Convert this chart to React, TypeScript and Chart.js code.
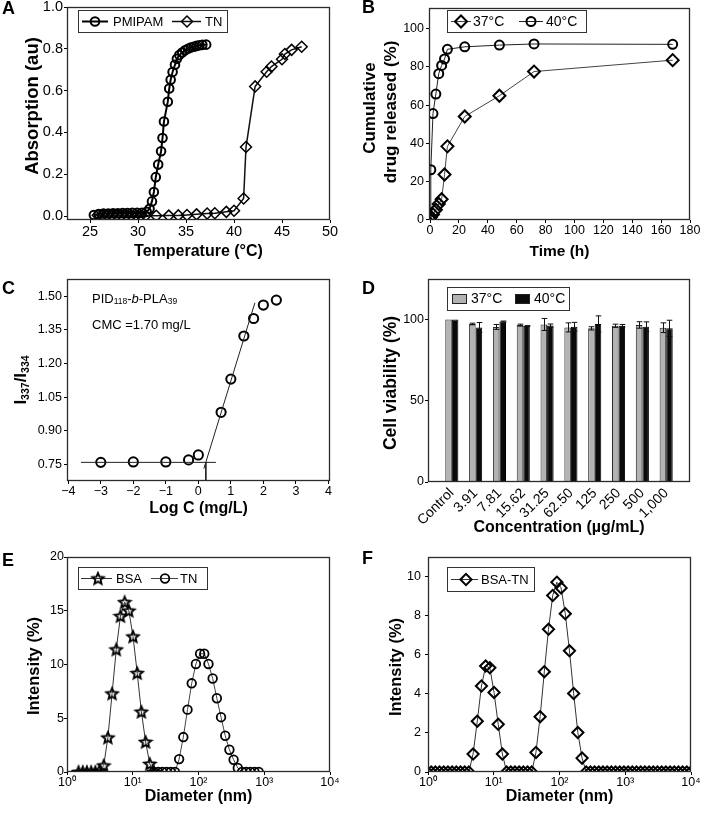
import React, { useEffect, useRef } from "react";
import { Chart, registerables } from "chart.js";

Chart.register(...registerables);

const FONT = "'Liberation Sans', Arial, Helvetica, sans-serif";

// ---------------- Panel A data ----------------
const A_PMIPAM_TEMP = [25.4, 25.9, 26.4, 26.9, 27.4, 27.9, 28.4, 28.9, 29.4, 29.9, 30.4, 30.9, 31.2, 31.45, 31.65, 31.85, 32.1, 32.4, 32.55, 32.7, 33.1, 33.25, 33.4, 33.6, 33.85, 34.05, 34.3, 34.6, 34.9, 35.2, 35.5, 35.8, 36.1, 36.4, 36.7, 37.1];
const A_PMIPAM_ABS = [0.005, 0.01, 0.012, 0.012, 0.013, 0.013, 0.014, 0.014, 0.015, 0.015, 0.016, 0.02, 0.035, 0.07, 0.115, 0.186, 0.246, 0.31, 0.373, 0.452, 0.547, 0.61, 0.652, 0.689, 0.724, 0.752, 0.77, 0.782, 0.793, 0.8, 0.806, 0.81, 0.814, 0.817, 0.819, 0.82];
const A_TN_TEMP = [25.8, 26.3, 26.8, 27.3, 27.8, 28.3, 28.8, 29.3, 29.8, 30.3, 30.8, 31.9, 33.2, 34.2, 35.1, 36.1, 37.2, 38.0, 39.2, 40.0, 41.0, 41.25, 42.2, 43.4, 43.9, 45.0, 45.3, 46.0, 47.05];
const A_TN_ABS = [0.004, 0.004, 0.003, 0.003, 0.003, 0.002, 0.002, 0.002, 0.002, 0.002, 0.002, 0.001, 0.002, 0.003, 0.005, 0.008, 0.012, 0.013, 0.02, 0.025, 0.084, 0.33, 0.62, 0.69, 0.715, 0.75, 0.775, 0.795, 0.81];
const A_X_TICKS = [25, 30, 35, 40, 45, 50];
const A_Y_TICKS = [0, 0.2, 0.4, 0.6, 0.8, 1.0];

// ---------------- Panel B data ----------------
const B_TIME = [0, 0.5, 2, 4, 6, 8, 10, 12, 24, 48, 72, 168];
const B_37C = [0, 1, 2.5, 5, 8, 10.5, 23.5, 38.3, 54, 64.9, 77.6, 83.6];
const B_40C = [0, 26, 55.5, 65.8, 76.5, 80.8, 84.2, 89.3, 90.6, 91.5, 92.1, 91.9];
const B_X_TICKS = [0, 20, 40, 60, 80, 100, 120, 140, 160, 180];
const B_Y_TICKS = [0, 20, 40, 60, 80, 100];

// ---------------- Panel C data ----------------
const C_LOGC = [-3, -2, -1, -0.3, 0, 0.7, 1, 1.4, 1.7, 2, 2.4];
const C_RATIO = [0.759, 0.761, 0.761, 0.77, 0.792, 0.982, 1.13, 1.322, 1.4, 1.46, 1.482];
const C_FLAT_X = [-3.61, 0.54];
const C_FLAT_Y = [0.759, 0.759];
const C_RISE_X = [0.17, 1.74];
const C_RISE_Y = [0.731, 1.47];
const C_CMC_X = [0.23, 0.23];
const C_CMC_Y = [0.759, 0.676];
const C_X_TICKS = [-4, -3, -2, -1, 0, 1, 2, 3, 4];
const C_Y_TICKS = [0.75, 0.9, 1.05, 1.2, 1.35, 1.5];

// ---------------- Panel D data ----------------
const D_CATEGORIES = ["Control", "3.91", "7.81", "15.62", "31.25", "62.50", "125", "250", "500", "1,000"];
const D_37C = [100, 97.3, 95.5, 96.6, 97.0, 95.2, 94.6, 96.2, 96.7, 95.0];
const D_37C_ERR = [0, 0.5, 1.5, 0.6, 3.7, 2.8, 1.0, 1.0, 2.0, 3.0];
const D_40C = [100, 95.2, 98.8, 96.0, 96.3, 95.6, 97.3, 96.2, 95.6, 94.6];
const D_40C_ERR = [0, 3.0, 0.3, 0.3, 1.0, 2.7, 5.0, 0.8, 3.0, 5.0];
const D_Y_TICKS = [0, 50, 100];

// ---------------- Panel E data ----------------
const E_BSA_SIZE = [1.499, 1.736, 2.01, 2.328, 2.696, 3.122, 3.615, 4.187, 4.849, 5.615, 6.503, 7.531, 8.721, 10.1, 11.7, 13.54, 15.69, 18.17, 21.04];
const E_BSA_INT = [0, 0, 0, 0, 0, 0.1, 0.6, 3.2, 7.3, 11.4, 14.5, 15.8, 15.0, 12.6, 9.2, 5.6, 2.8, 0.75, 0];
const E_TN_SIZE = [21.04, 24.36, 28.21, 32.67, 37.84, 43.82, 50.75, 58.77, 68.06, 78.82, 91.28, 105.7, 122.4, 141.8, 164.2, 190.1, 220.2, 255, 295.3, 342, 396.1, 458.7, 531.2, 615.1, 712.4, 825];
const E_TN_INT = [0, 0, 0, 0, 0, 0, 1.2, 3.25, 5.8, 8.25, 10.05, 11.0, 11.0, 10.05, 8.7, 6.86, 5.1, 3.37, 2.07, 1.14, 0.37, 0, 0, 0, 0, 0];
const E_Y_TICKS = [0, 5, 10, 15, 20];
const LOG_TICKS = [1, 10, 100, 1000, 10000];

// ---------------- Panel F data ----------------
const F_SIZE = [0.9649, 1.117, 1.294, 1.499, 1.736, 2.01, 2.328, 2.696, 3.122, 3.615, 4.187, 4.849, 5.615, 6.503, 7.531, 8.721, 10.1, 11.7, 13.54, 15.69, 18.17, 21.04, 24.36, 28.21, 32.67, 37.84, 43.82, 50.75, 58.77, 68.06, 78.82, 91.28, 105.7, 122.4, 141.8, 164.2, 190.1, 220.2, 255, 295.3, 342, 396.1, 458.7, 531.2, 615.1, 712.4, 825, 955.4, 1106, 1281, 1484, 1718, 1990, 2305, 2669, 3091, 3580, 4145, 4801, 5560, 6439, 7456, 8635, 10000];
const F_INT = [0, 0, 0, 0, 0, 0, 0, 0, 0, 0, 0, 0.92, 2.6, 4.4, 5.42, 5.33, 4.07, 2.44, 0.92, 0, 0, 0, 0, 0, 0, 0, 1.0, 2.83, 5.13, 7.3, 9.03, 9.71, 9.42, 8.1, 6.2, 4.02, 2.02, 0.71, 0, 0, 0, 0, 0, 0, 0, 0, 0, 0, 0, 0, 0, 0, 0, 0, 0, 0, 0, 0, 0, 0, 0, 0, 0, 0];
const F_Y_TICKS = [0, 2, 4, 6, 8, 10];

// ---------------- helpers ----------------
const SUP: Record<number, string> = { 0: "\u2070", 1: "\u00B9", 2: "\u00B2", 3: "\u00B3", 4: "\u2074" };
const pts = (xs: number[], ys: number[]) => xs.map((x, i) => ({ x, y: ys[i] }));

interface Area { l: number; t: number; r: number; b: number }
interface PanelSpec { left: number; top: number; w: number; h: number; area: Area }

const PANEL_A: PanelSpec = { left: 0, top: 0, w: 350, h: 270, area: { l: 67, t: 5, r: 330, b: 220 } };
const PANEL_B: PanelSpec = { left: 350, top: 0, w: 351, h: 270, area: { l: 79, t: 5, r: 340, b: 220 } };
const PANEL_C: PanelSpec = { left: 0, top: 270, w: 350, h: 270, area: { l: 67, t: 9, r: 330, b: 211 } };
const PANEL_D: PanelSpec = { left: 350, top: 270, w: 351, h: 270, area: { l: 78, t: 9, r: 340, b: 212 } };
const PANEL_E: PanelSpec = { left: 0, top: 540, w: 350, h: 275, area: { l: 67, t: 17, r: 330, b: 232 } };
const PANEL_F: PanelSpec = { left: 350, top: 540, w: 351, h: 275, area: { l: 78, t: 17, r: 341, b: 232 } };

let STAR: HTMLCanvasElement | null = null;
function starImage(): HTMLCanvasElement {
  if (STAR) return STAR;
  const r = 6;
  const size = 16;
  const c = document.createElement("canvas");
  c.width = size;
  c.height = size;
  const ctx = c.getContext("2d")!;
  const cx = size / 2, cy = size / 2 + 0.5;
  ctx.beginPath();
  for (let i = 0; i < 10; i++) {
    const rad = i % 2 === 0 ? r : r * 0.45;
    const a = -Math.PI / 2 + (i * Math.PI) / 5;
    const px = cx + rad * Math.cos(a), py = cy + rad * Math.sin(a);
    if (i === 0) ctx.moveTo(px, py); else ctx.lineTo(px, py);
  }
  ctx.closePath();
  ctx.lineWidth = 1.9;
  ctx.strokeStyle = "#000";
  ctx.lineJoin = "miter";
  ctx.stroke();
  STAR = c;
  return c;
}

interface AxisOpt {
  type?: string; min?: number; max?: number; ticks?: number[]; fmt?: (v: number) => string;
  size: number; pad: number; tickLen?: number; tickColor?: string; rot?: number; offset?: boolean;
}

function axis(p: PanelSpec, dir: "x" | "y", o: AxisOpt): any {
  const fitSize = dir === "x" ? p.h - p.area.b : p.area.l;
  const tc = o.tickColor || "#000";
  const cfg: any = {
    type: o.type || "linear",
    min: o.min,
    max: o.max,
    afterFit: (s: any) => {
      if (dir === "x") s.height = fitSize; else s.width = fitSize;
      s.paddingLeft = 0; s.paddingRight = 0; s.paddingTop = 0; s.paddingBottom = 0;
    },
    grid: { display: true, drawOnChartArea: false, drawTicks: true, tickLength: o.tickLen ?? 3, color: tc, tickColor: tc, lineWidth: 1, offset: false },
    border: { display: false },
    ticks: {
      font: { family: FONT, size: o.size, lineHeight: 1.2 }, color: "#000", padding: o.pad,
      autoSkip: false, maxRotation: o.rot ?? 0, minRotation: o.rot ?? 0,
    },
    title: { display: false },
  };
  if (o.offset !== undefined) cfg.offset = o.offset;
  if (o.ticks) {
    const list = o.ticks;
    cfg.afterBuildTicks = (s: any) => { s.ticks = list.map((v) => ({ value: v })); };
  }
  if (o.fmt) {
    const f = o.fmt;
    cfg.ticks.callback = (v: any) => f(Number(v));
  }
  return cfg;
}

interface Seg { t: string; size: number; bold?: boolean; italic?: boolean; dy?: number }
interface TextSpec { segs: Seg[]; x: number; y: number; align: "left" | "center"; rotate?: boolean }
const fontStr = (s: Seg) => `${s.italic ? "italic " : ""}${s.bold ? "bold " : ""}${s.size}px ${FONT}`;
const T = (t: string, size: number, bold = false): Seg => ({ t, size, bold });

function drawRich(ctx: CanvasRenderingContext2D, spec: TextSpec) {
  ctx.save();
  ctx.translate(spec.x, spec.y);
  if (spec.rotate) ctx.rotate(-Math.PI / 2);
  ctx.textBaseline = "middle";
  ctx.textAlign = "left";
  ctx.fillStyle = "#000";
  let total = 0;
  for (const s of spec.segs) { ctx.font = fontStr(s); total += ctx.measureText(s.t).width; }
  let x = spec.align === "center" ? -total / 2 : 0;
  for (const s of spec.segs) {
    ctx.font = fontStr(s);
    ctx.fillText(s.t, x, s.dy || 0);
    x += ctx.measureText(s.t).width;
  }
  ctx.restore();
}

interface Marker { style: "circle" | "diamond" | "star"; r: number; lw: number }
interface LegendItem {
  text: string; tx: number;
  line?: { x1: number; x2: number; color: string; lw: number; mx: number; marker: Marker };
  rect?: { x: number; w: number; h: number; fill: string };
}
interface LegendSpec { box: [number, number, number, number]; cy: number; font: number; items: LegendItem[] }

function drawMarker(ctx: CanvasRenderingContext2D, m: Marker, x: number, y: number) {
  if (m.style === "star") {
    const img = starImage();
    ctx.drawImage(img, x - img.width / 2, y - img.height / 2);
    return;
  }
  ctx.save();
  ctx.lineWidth = m.lw;
  ctx.strokeStyle = "#000";
  ctx.beginPath();
  if (m.style === "circle") ctx.arc(x, y, m.r, 0, Math.PI * 2);
  else { ctx.moveTo(x - m.r, y); ctx.lineTo(x, y - m.r); ctx.lineTo(x + m.r, y); ctx.lineTo(x, y + m.r); ctx.closePath(); }
  ctx.stroke();
  ctx.restore();
}

function drawLegend(ctx: CanvasRenderingContext2D, lg: LegendSpec) {
  const [l, t, r, b] = lg.box;
  ctx.save();
  ctx.fillStyle = "#fff";
  ctx.fillRect(l, t, r - l, b - t);
  ctx.strokeStyle = "#333";
  ctx.lineWidth = 1;
  ctx.strokeRect(l + 0.5, t + 0.5, r - l - 1, b - t - 1);
  for (const it of lg.items) {
    if (it.line) {
      ctx.strokeStyle = it.line.color;
      ctx.lineWidth = it.line.lw;
      ctx.beginPath();
      ctx.moveTo(it.line.x1, lg.cy);
      ctx.lineTo(it.line.x2, lg.cy);
      ctx.stroke();
      drawMarker(ctx, it.line.marker, it.line.mx, lg.cy);
    }
    if (it.rect) {
      ctx.fillStyle = it.rect.fill;
      ctx.fillRect(it.rect.x, lg.cy - it.rect.h / 2, it.rect.w, it.rect.h);
      ctx.strokeStyle = "#222";
      ctx.lineWidth = 1;
      ctx.strokeRect(it.rect.x + 0.5, lg.cy - it.rect.h / 2 + 0.5, it.rect.w - 1, it.rect.h - 1);
    }
    ctx.fillStyle = "#000";
    ctx.font = `${lg.font}px ${FONT}`;
    ctx.textBaseline = "middle";
    ctx.textAlign = "left";
    ctx.fillText(it.text, it.tx, lg.cy + 0.5);
  }
  ctx.restore();
}

function decoPlugin(texts: TextSpec[], legend?: LegendSpec, extra?: (chart: any) => void) {
  return {
    id: "deco",
    afterDatasetsDraw(chart: any) { if (extra) extra(chart); },
    afterDraw(chart: any) {
      const ctx = chart.ctx as CanvasRenderingContext2D;
      const a = chart.chartArea;
      ctx.save();
      ctx.strokeStyle = "#2b2b2b";
      ctx.lineWidth = 1.3;
      ctx.strokeRect(a.left + 0.5, a.top + 0.5, a.right - a.left - 1, a.bottom - a.top - 1);
      ctx.restore();
      if (legend) drawLegend(ctx, legend);
      texts.forEach((t) => drawRich(ctx, t));
    },
  };
}

function baseOptions(p: PanelSpec, scales: any): any {
  return {
    responsive: false,
    animation: false,
    devicePixelRatio: 1,
    events: [],
    layout: { padding: { left: 0, top: p.area.t, right: p.w - p.area.r, bottom: 0 } },
    plugins: { legend: { display: false }, tooltip: { enabled: false }, title: { display: false } },
    scales,
  };
}

function lineSet(data: any[], o: { color: string; lw: number; style: any; r: number; plw: number; clip?: number; showLine?: boolean }): any {
  const ds: any = {
    data, borderColor: o.color, borderWidth: o.lw, showLine: o.showLine !== false, tension: 0,
    pointStyle: o.style, pointRadius: o.r, pointBorderWidth: o.plw, pointBorderColor: "#000",
    pointBackgroundColor: "rgba(0,0,0,0)", backgroundColor: "rgba(0,0,0,0)", fill: false,
  };
  if (o.clip !== undefined) ds.clip = o.clip;
  return ds;
}

// ---------------- chart builders ----------------
function makeA(canvas: HTMLCanvasElement) {
  const p = PANEL_A;
  return new Chart(canvas, {
    type: "line",
    data: {
      datasets: [
        lineSet(pts(A_TN_TEMP, A_TN_ABS), { color: "#111", lw: 1.5, style: "rectRot", r: 5.5, plw: 1.5 }),
        lineSet(pts(A_PMIPAM_TEMP, A_PMIPAM_ABS), { color: "#000", lw: 2, style: "circle", r: 4.3, plw: 2 }),
      ],
    },
    options: baseOptions(p, {
      x: axis(p, "x", { min: 22.6, max: 50, ticks: A_X_TICKS, fmt: (v) => String(v), size: 14.5, pad: 0 }),
      y: axis(p, "y", { min: -0.019, max: 1.0, ticks: A_Y_TICKS, fmt: (v) => v.toFixed(1), size: 14.5, pad: 1 }),
    }),
    plugins: [decoPlugin(
      [
        { segs: [T("A", 18, true)], x: 2, y: 9.5, align: "left" },
        { segs: [T("Temperature (°C)", 16, true)], x: 198.5, y: 252, align: "center" },
        { segs: [T("Absorption (au)", 18.5, true)], x: 33, y: 106, align: "center", rotate: true },
      ],
      {
        box: [78, 10, 228, 33], cy: 21.5, font: 13,
        items: [
          { text: "PMIPAM", tx: 113, line: { x1: 82, x2: 108, color: "#000", lw: 2, mx: 95, marker: { style: "circle", r: 4.3, lw: 2 } } },
          { text: "TN", tx: 205, line: { x1: 172, x2: 201, color: "#111", lw: 1.5, mx: 187, marker: { style: "diamond", r: 5.5, lw: 1.5 } } },
        ],
      }
    )],
  } as any);
}

function makeB(canvas: HTMLCanvasElement) {
  const p = PANEL_B;
  return new Chart(canvas, {
    type: "line",
    data: {
      datasets: [
        lineSet(pts(B_TIME, B_37C), { color: "#444", lw: 1, style: "rectRot", r: 6, plw: 2 }),
        lineSet(pts(B_TIME, B_40C), { color: "#222", lw: 1, style: "circle", r: 4.5, plw: 2 }),
      ],
    },
    options: baseOptions(p, {
      x: axis(p, "x", { min: -0.75, max: 180, ticks: B_X_TICKS, fmt: (v) => String(v), size: 12.5, pad: 0 }),
      y: axis(p, "y", { min: -0.4, max: 111, ticks: B_Y_TICKS, fmt: (v) => String(v), size: 12.5, pad: 2 }),
    }),
    plugins: [decoPlugin(
      [
        { segs: [T("B", 18, true)], x: 12, y: 8.5, align: "left" },
        { segs: [T("Time (h)", 15.5, true)], x: 209.5, y: 252, align: "center" },
        { segs: [T("Cumulative", 17, true)], x: 20, y: 108, align: "center", rotate: true },
        { segs: [T("drug released (%)", 17, true)], x: 41, y: 112, align: "center", rotate: true },
      ],
      {
        box: [97, 10, 237, 33], cy: 21.5, font: 14,
        items: [
          { text: "37°C", tx: 123, line: { x1: 101, x2: 121, color: "#444", lw: 1, mx: 111, marker: { style: "diamond", r: 6, lw: 2 } } },
          { text: "40°C", tx: 196, line: { x1: 169, x2: 193, color: "#222", lw: 1, mx: 181, marker: { style: "circle", r: 4.5, lw: 2 } } },
        ],
      }
    )],
  } as any);
}

function makeC(canvas: HTMLCanvasElement) {
  const p = PANEL_C;
  const fitLine = (xs: number[], ys: number[]) => lineSet(pts(xs, ys), { color: "#222", lw: 1, style: "circle", r: 0, plw: 0 });
  return new Chart(canvas, {
    type: "line",
    data: {
      datasets: [
        fitLine(C_FLAT_X, C_FLAT_Y),
        fitLine(C_RISE_X, C_RISE_Y),
        fitLine(C_CMC_X, C_CMC_Y),
        lineSet(pts(C_LOGC, C_RATIO), { color: "#000", lw: 0, style: "circle", r: 4.6, plw: 2, showLine: false }),
      ],
    },
    options: baseOptions(p, {
      x: axis(p, "x", { min: -4.04, max: 4.05, ticks: C_X_TICKS, fmt: (v) => (v < 0 ? "\u2212" + Math.abs(v) : String(v)), size: 12.5, pad: 0 }),
      y: axis(p, "y", { min: 0.676, max: 1.576, ticks: C_Y_TICKS, fmt: (v) => v.toFixed(2), size: 12.5, pad: 2 }),
    }),
    plugins: [decoPlugin([
      { segs: [T("C", 18, true)], x: 2, y: 19, align: "left" },
      { segs: [T("Log C (mg/L)", 16, true)], x: 198.5, y: 239, align: "center" },
      {
        segs: [
          { t: "I", size: 17, bold: true },
          { t: "337", size: 10.5, bold: true, dy: 5 },
          { t: "/I", size: 17, bold: true },
          { t: "334", size: 10.5, bold: true, dy: 5 },
        ], x: 21, y: 110, align: "center", rotate: true,
      },
      {
        segs: [
          { t: "PID", size: 13 }, { t: "118", size: 8.5, dy: 3 }, { t: "-", size: 13 },
          { t: "b", size: 13, italic: true }, { t: "-PLA", size: 13 }, { t: "39", size: 8.5, dy: 3 },
        ], x: 92, y: 29, align: "left",
      },
      { segs: [T("CMC =1.70 mg/L", 13)], x: 92, y: 55, align: "left" },
    ])],
  } as any);
}

function makeD(canvas: HTMLCanvasElement) {
  const p = PANEL_D;
  const labels = ["", ...D_CATEGORIES, ""];
  const errs = [D_37C_ERR, D_40C_ERR];
  const vals = [D_37C, D_40C];
  const errorBars = (chart: any) => {
    const ctx = chart.ctx as CanvasRenderingContext2D;
    const ys = chart.scales.y;
    ctx.save();
    ctx.strokeStyle = "#111";
    ctx.lineWidth = 1;
    for (let d = 0; d < 2; d++) {
      const meta = chart.getDatasetMeta(d);
      vals[d].forEach((v, i) => {
        const e = errs[d][i];
        if (!e) return;
        const el = meta.data[i + 1];
        if (!el) return;
        const x = Math.round(el.x) + 0.5;
        const y1 = ys.getPixelForValue(v + e), y2 = ys.getPixelForValue(v - e);
        const cw = 2.8;
        ctx.beginPath();
        ctx.moveTo(x, y1); ctx.lineTo(x, y2);
        ctx.moveTo(x - cw, y1); ctx.lineTo(x + cw, y1);
        ctx.moveTo(x - cw, y2); ctx.lineTo(x + cw, y2);
        ctx.stroke();
      });
    }
    ctx.restore();
  };
  return new Chart(canvas, {
    type: "bar",
    data: {
      labels,
      datasets: [
        { label: "37°C", data: [null, ...D_37C, null], backgroundColor: "#b3b3b3", borderColor: "#2a2a2a", borderWidth: 1, categoryPercentage: 0.55, barPercentage: 1 },
        { label: "40°C", data: [null, ...D_40C, null], backgroundColor: "#0a0a0a", borderColor: "#000", borderWidth: 1, categoryPercentage: 0.55, barPercentage: 1 },
      ],
    },
    options: baseOptions(p, {
      x: axis(p, "x", { type: "category", size: 14, pad: 0, rot: 45, tickColor: "rgba(0,0,0,0)", offset: false }),
      y: axis(p, "y", { min: 0, max: 125, ticks: D_Y_TICKS, fmt: (v) => String(v), size: 12.5, pad: 1 }),
    }),
    plugins: [decoPlugin(
      [
        { segs: [T("D", 18, true)], x: 12, y: 19, align: "left" },
        { segs: [T("Concentration (µg/mL)", 16, true)], x: 209, y: 258, align: "center" },
        { segs: [T("Cell viability (%)", 17.5, true)], x: 41, y: 113, align: "center", rotate: true },
      ],
      {
        box: [97, 17, 220, 41], cy: 29, font: 14,
        items: [
          { text: "37°C", tx: 121, rect: { x: 102, w: 15, h: 10, fill: "#b3b3b3" } },
          { text: "40°C", tx: 184, rect: { x: 165, w: 15, h: 10, fill: "#0a0a0a" } },
        ],
      },
      errorBars
    )],
  } as any);
}

const logFmt = (v: number) => "10" + (SUP[Math.round(Math.log10(v))] || "");

function makeE(canvas: HTMLCanvasElement) {
  const p = PANEL_E;
  return new Chart(canvas, {
    type: "line",
    data: {
      datasets: [
        lineSet(pts(E_TN_SIZE, E_TN_INT), { color: "#444", lw: 1, style: "circle", r: 4.3, plw: 1.8, clip: 0 }),
        lineSet(pts(E_BSA_SIZE, E_BSA_INT), { color: "#333", lw: 1, style: starImage(), r: 5, plw: 1.8, clip: 0 }),
      ],
    },
    options: baseOptions(p, {
      x: axis(p, "x", { type: "logarithmic", min: 1, max: 10000, ticks: LOG_TICKS, fmt: logFmt, size: 12.5, pad: 0 }),
      y: axis(p, "y", { min: 0, max: 20, ticks: E_Y_TICKS, fmt: (v) => String(v), size: 12.5, pad: 0 }),
    }),
    plugins: [decoPlugin(
      [
        { segs: [T("E", 18, true)], x: 2, y: 21, align: "left" },
        { segs: [T("Diameter (nm)", 16, true)], x: 198.5, y: 257, align: "center" },
        { segs: [T("Intensity (%)", 16.5, true)], x: 34, y: 126, align: "center", rotate: true },
      ],
      {
        box: [78, 27, 208, 50], cy: 38.5, font: 13,
        items: [
          { text: "BSA", tx: 116, line: { x1: 81, x2: 112, color: "#333", lw: 1, mx: 98, marker: { style: "star", r: 6, lw: 1.8 } } },
          { text: "TN", tx: 180, line: { x1: 151, x2: 178, color: "#444", lw: 1, mx: 165, marker: { style: "circle", r: 4.3, lw: 1.8 } } },
        ],
      }
    )],
  } as any);
}

function makeF(canvas: HTMLCanvasElement) {
  const p = PANEL_F;
  return new Chart(canvas, {
    type: "line",
    data: {
      datasets: [
        lineSet(pts(F_SIZE, F_INT), { color: "#333", lw: 1, style: "rectRot", r: 5.6, plw: 2, clip: 0 }),
      ],
    },
    options: baseOptions(p, {
      x: axis(p, "x", { type: "logarithmic", min: 1, max: 10000, ticks: LOG_TICKS, fmt: logFmt, size: 12.5, pad: 0 }),
      y: axis(p, "y", { min: 0, max: 11, ticks: F_Y_TICKS, fmt: (v) => String(v), size: 12.5, pad: 4 }),
    }),
    plugins: [decoPlugin(
      [
        { segs: [T("F", 18, true)], x: 12, y: 19.5, align: "left" },
        { segs: [T("Diameter (nm)", 16, true)], x: 209.5, y: 257, align: "center" },
        { segs: [T("Intensity (%)", 16.5, true)], x: 46, y: 127, align: "center", rotate: true },
      ],
      {
        box: [97, 27, 185, 52], cy: 39.5, font: 13,
        items: [
          { text: "BSA-TN", tx: 131, line: { x1: 101, x2: 128, color: "#333", lw: 1, mx: 116, marker: { style: "diamond", r: 5.6, lw: 2 } } },
        ],
      }
    )],
  } as any);
}

function Panel({ spec, make }: { spec: PanelSpec; make: (c: HTMLCanvasElement) => Chart }) {
  const ref = useRef<HTMLCanvasElement>(null);
  useEffect(() => {
    const chart = make(ref.current!);
    return () => chart.destroy();
  }, []);
  return (
    <canvas
      ref={ref}
      width={spec.w}
      height={spec.h}
      style={{ position: "absolute", left: spec.left, top: spec.top, width: spec.w, height: spec.h, display: "block" }}
    />
  );
}

export default function App() {
  return (
    <div style={{ position: "absolute", left: 0, top: 0, width: 701, height: 815, background: "#fff", overflow: "hidden" }}>
      <Panel spec={PANEL_A} make={makeA} />
      <Panel spec={PANEL_B} make={makeB} />
      <Panel spec={PANEL_C} make={makeC} />
      <Panel spec={PANEL_D} make={makeD} />
      <Panel spec={PANEL_E} make={makeE} />
      <Panel spec={PANEL_F} make={makeF} />
    </div>
  );
}
